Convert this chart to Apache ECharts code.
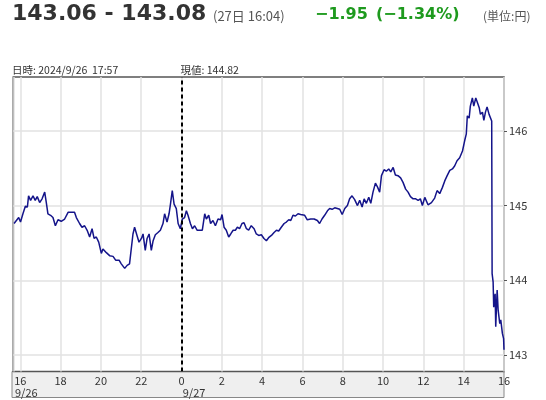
<!DOCTYPE html>
<html><head><meta charset="utf-8">
<script src="https://cdn.jsdelivr.net/npm/echarts@6/dist/echarts.min.js"></script>
<style>html,body{margin:0;padding:0;background:#fff}#c{width:546px;height:400px}</style>
</head><body><div id="c"></div>
<script>
// hours since 2024/9/26 00:00
const times = [
15.69,15.92,16.01,16.13,16.25,16.35,16.41,16.51,16.63,16.74,
16.84,16.96,17.08,17.21,17.29,17.37,17.50,17.62,17.74,17.87,
18.03,18.20,18.37,18.53,18.69,18.78,18.94,19.06,19.19,19.33,
19.44,19.56,19.66,19.77,19.89,20.02,20.10,20.27,20.43,20.60,
20.73,20.90,21.01,21.18,21.30,21.42,21.51,21.59,21.67,21.79,
21.89,22.01,22.09,22.20,22.29,22.39,22.50,22.59,22.70,22.83,
22.95,23.08,23.16,23.28,23.38,23.44,23.54,23.63,23.74,23.83,
23.94,24.04,24.15,24.24,24.32,24.44,24.54,24.65,24.77,24.90,
25.03,25.15,25.23,25.35,25.44,25.56,25.68,25.81,25.94,26.01,
26.11,26.22,26.34,26.44,26.56,26.67,26.77,26.88,27.00,27.10,
27.22,27.33,27.46,27.60,27.71,27.83,27.96,28.09,28.21,28.32,
28.46,28.59,28.71,28.82,28.95,29.09,29.20,29.32,29.42,29.53,
29.65,29.78,29.91,30.11,30.24,30.41,30.58,30.74,30.85,30.97,
31.10,31.24,31.35,31.47,31.60,31.73,31.85,31.97,32.10,32.23,
32.34,32.46,32.59,32.73,32.84,32.96,33.06,33.17,33.29,33.39,
33.50,33.62,33.72,33.83,33.92,34.05,34.16,34.28,34.38,34.50,
34.61,34.74,34.87,34.99,35.12,35.24,35.36,35.49,35.62,35.74,
35.85,35.95,36.07,36.23,36.40,36.56,36.68,36.81,36.94,37.06,
37.18,37.31,37.44,37.55,37.67,37.80,37.94,38.05,38.13,38.18,
38.27,38.33,38.43,38.50,38.60,38.68,38.77,38.83,38.93,39.00,
39.08,39.16,39.26,39.34,39.39,39.41,39.46,39.49,39.56,39.59,
39.66,39.71,39.79,39.84,39.92,39.98,40.00
];
const prices = [
144.76,144.84,144.78,144.89,144.99,144.98,145.13,145.07,145.13,145.07,
145.12,145.04,145.09,145.18,145.04,144.89,144.87,144.84,144.73,144.81,
144.79,144.82,144.91,144.91,144.91,144.84,144.76,144.71,144.73,144.66,
144.58,144.69,144.56,144.58,144.51,144.36,144.42,144.37,144.33,144.32,
144.27,144.27,144.22,144.16,144.20,144.22,144.20,144.62,144.71,144.60,
144.51,144.56,144.62,144.40,144.56,144.62,144.40,144.53,144.61,144.64,
144.67,144.76,144.89,144.78,144.89,145.00,145.20,145.02,144.96,144.76,
144.69,144.82,144.84,144.93,144.87,144.76,144.69,144.73,144.67,144.67,
144.67,144.89,144.82,144.87,144.76,144.80,144.73,144.82,144.81,144.88,
144.71,144.67,144.58,144.62,144.67,144.67,144.71,144.69,144.76,144.77,
144.69,144.67,144.73,144.69,144.62,144.60,144.61,144.56,144.53,144.57,
144.60,144.64,144.67,144.66,144.71,144.76,144.78,144.81,144.80,144.87,
144.86,144.89,144.88,144.87,144.81,144.82,144.82,144.80,144.76,144.82,
144.87,144.93,144.96,144.95,144.97,144.96,144.95,144.88,144.96,145.00,
145.09,145.13,145.08,145.00,145.07,144.98,145.09,145.03,145.11,145.03,
145.18,145.30,145.25,145.18,145.40,145.48,145.46,145.49,145.45,145.51,
145.41,145.40,145.37,145.31,145.22,145.18,145.12,145.09,145.09,145.07,
145.09,145.00,145.11,145.01,145.04,145.10,145.20,145.16,145.24,145.33,
145.40,145.47,145.49,145.53,145.60,145.64,145.73,145.87,145.96,146.20,
146.17,146.33,146.44,146.33,146.44,146.38,146.31,146.22,146.25,146.14,
146.25,146.32,146.22,146.20,146.13,144.09,143.98,143.64,143.82,143.38,
143.87,143.60,143.42,143.47,143.29,143.22,143.07
];
const yTicks = [143, 144, 145, 146];
const dateLabels = { 16: '9/26', 24: '9/27' };
const midnight = 24;
const bid = '143.06', ask = '143.08';
const quoteTime = '(27日 16:04)';
const change = '\u22121.95', changePct = '(\u22121.34%)';
const unitText = '(単位:円)';
const cursorDate = '日時: 2024/9/26  17:57';
const cursorValue = '現値: 144.82';

const chart = echarts.init(document.getElementById('c'), null, { renderer: 'canvas' });
const jp = '"Noto Sans CJK JP", "Noto Sans", sans-serif';
const gridColor = '#e2e2e2';

chart.setOption({
  animation: false,
  backgroundColor: '#fff',
  grid: { left: 12, right: 42, top: 77, bottom: 28.5, show: true, borderColor: '#555', borderWidth: 1.5, backgroundColor: 'transparent' },
  xAxis: {
    type: 'value', min: 15.65, max: 40, splitNumber: 12,
    axisLine: { show: false }, axisTick: { show: false },
    splitLine: { show: true, lineStyle: { color: gridColor, width: 1.5 } },
    axisLabel: {
      showMinLabel: false, showMaxLabel: true, margin: 3,
      color: '#333', fontSize: 11, fontFamily: jp, lineHeight: 12,
      formatter: function (v) {
        const h = Math.round(v);
        let s = String(h % 24);
        if (dateLabels[h]) s += '\n{' + (h === 16 ? 'a' : 'b') + '|' + dateLabels[h] + '}';
        return s;
      },
      rich: {
        a: { fontSize: 11, fontFamily: jp, color: '#333', padding: [0, 0, 0, 12], lineHeight: 12 },
        b: { fontSize: 11, fontFamily: jp, color: '#333', padding: [0, 0, 0, 25], lineHeight: 12 }
      }
    }
  },
  yAxis: {
    type: 'value', position: 'right', min: 142.78, max: 146.72, splitNumber: 4,
    axisLine: { show: false },
    axisTick: { show: true, length: 3, customValues: yTicks, lineStyle: { color: '#555' } },
    splitLine: { show: true, lineStyle: { color: gridColor, width: 1.5 } },
    axisLabel: { customValues: yTicks, margin: 5, color: '#333', fontSize: 11, fontFamily: jp }
  },
  series: [{
    type: 'line', showSymbol: false, symbol: 'none',
    data: times.map((t, i) => [t, prices[i]]),
    lineStyle: { color: '#14148a', width: 1.5 },
    markLine: {
      silent: true, symbol: 'none', label: { show: false },
      lineStyle: { color: '#000', type: [4, 3], width: 2 },
      data: [{ xAxis: midnight }]
    }
  }],
  graphic: [
    { type: 'rect', z: -10, shape: { x: 12, y: 371.5, width: 492, height: 26 }, style: { fill: '#efefef', stroke: '#888', lineWidth: 1 } },
    { type: 'text', x: 12, y: 14, style: { text: bid + ' - ' + ask, font: 'bold 22px "DejaVu Sans"', fill: '#333', verticalAlign: 'middle' } },
    { type: 'text', x: 213, y: 16, style: { text: quoteTime, font: '13px ' + jp, fill: '#555', verticalAlign: 'middle' } },
    { type: 'text', x: 315, y: 15, style: { text: change, font: 'bold 16px "DejaVu Sans"', fill: '#1e9a1e', verticalAlign: 'middle' } },
    { type: 'text', x: 376, y: 15, style: { text: changePct, font: 'bold 16px "DejaVu Sans"', fill: '#1e9a1e', verticalAlign: 'middle' } },
    { type: 'text', x: 483, y: 16, style: { text: unitText, font: '12px ' + jp, fill: '#555', verticalAlign: 'middle' } },
    { type: 'text', x: 12, y: 70, style: { text: cursorDate, font: '10.5px ' + jp, fill: '#333', verticalAlign: 'middle' } },
    { type: 'text', x: 180.5, y: 70, style: { text: cursorValue, font: '10.5px ' + jp, fill: '#333', verticalAlign: 'middle' } }
  ]
});
</script>
</body></html>
